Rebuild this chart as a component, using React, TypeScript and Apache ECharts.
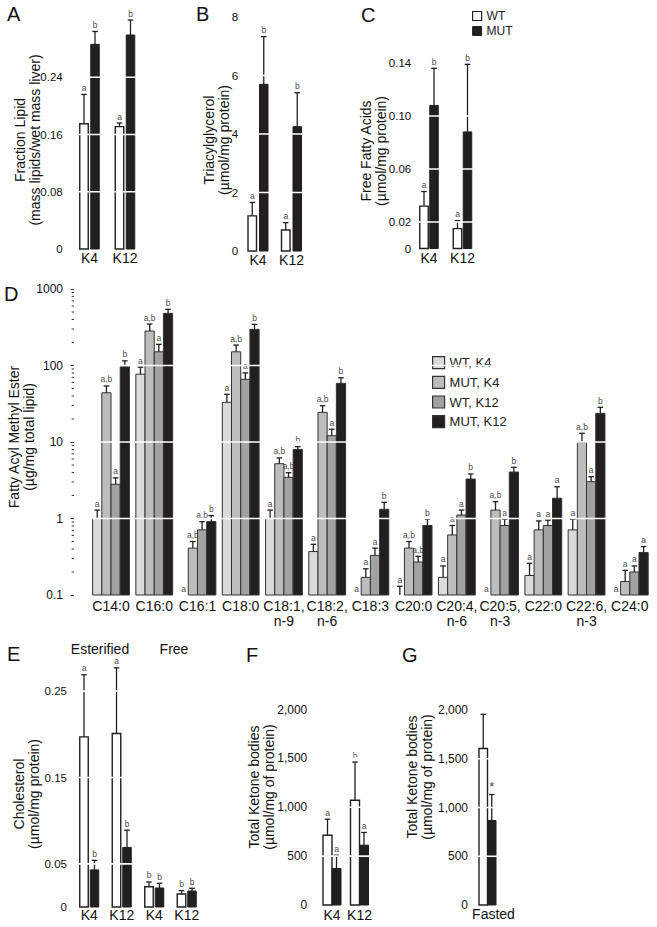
import React, { useEffect, useRef } from 'react';
import * as echarts from 'echarts';

const FONT = '"Liberation Sans", Arial, Helvetica, sans-serif';
const INK = '#231f20';
const WT_FILL = '#ffffff';
const MUT_FILL = '#231f20';

// ---------- Panel A: fraction lipid ----------
const lipidCategories = ['K4', 'K12'];
const lipidWT = [0.175, 0.171];
const lipidWTErr = [0.216, 0.176];
const lipidMUT = [0.286, 0.299];
const lipidMUTErr = [0.304, 0.32];
const lipidWTLetters = ['a', 'a'];
const lipidMUTLetters = ['b', 'b'];
const lipidTickLabels = [0, 0.08, 0.16, 0.24];
const lipidGridLines = [0.08, 0.16, 0.24];

// ---------- Panel B: triacylglycerol ----------
const tagCategories = ['K4', 'K12'];
const tagWT = [1.2, 0.72];
const tagWTErr = [1.66, 0.97];
const tagMUT = [5.7, 4.25];
const tagMUTErr = [7.33, 5.41];
const tagWTLetters = ['a', 'a'];
const tagMUTLetters = ['b', 'b'];
const tagGridLines = [2, 4, 6];

// ---------- Panel C: free fatty acids ----------
const ffaCategories = ['K4', 'K12'];
const ffaWT = [0.032, 0.015];
const ffaWTErr = [0.043, 0.021];
const ffaMUT = [0.108, 0.088];
const ffaMUTErr = [0.136, 0.139];
const ffaWTLetters = ['a', 'a'];
const ffaMUTLetters = ['b', 'b'];
const ffaTickLabels = [0, 0.02, 0.06, 0.1, 0.14];
const ffaGridLines = [0.02, 0.06, 0.1];

// ---------- Panel D: fatty acyl methyl esters ----------
const fameCategories = [
  'C14:0', 'C16:0', 'C16:1', 'C18:0', 'C18:1,\nn-9', 'C18:2,\nn-6', 'C18:3',
  'C20:0', 'C20:4,\nn-6', 'C20:5,\nn-3', 'C22:0', 'C22:6,\nn-3', 'C24:0',
];
const fameWTK4 = [1.0, 77, null, 33, 1.0, 0.37, null, null, 0.17, null, 0.18, 0.71, null];
const fameWTK4Err = [1.29, 95, null, 42, 1.29, 0.46, null, 0.13, 0.24, null, 0.26, 0.98, null];
const fameMUTK4 = [44, 282, 0.41, 151, 5.2, 24.4, 0.17, 0.41, 0.61, 1.29, 0.71, 9.9, 0.15];
const fameMUTK4Err = [54, 348, 0.5, 185, 6.2, 29.8, 0.22, 0.5, 0.81, 1.66, 0.93, 13, 0.21];
const fameWTK12 = [2.8, 151, 0.71, 66, 3.45, 12.1, 0.33, 0.27, 1.11, 0.81, 0.81, 3.03, 0.2];
const fameWTK12Err = [3.4, 189, 0.91, 80, 3.97, 14.7, 0.41, 0.32, 1.29, 0.98, 0.95, 3.52, 0.24];
const fameMUTK12 = [96, 481, 0.91, 297, 8.0, 58.5, 1.32, 0.81, 3.28, 4.05, 1.84, 23.7, 0.36];
const fameMUTK12Err = [115, 543, 1.09, 345, 8.7, 69, 1.63, 0.98, 3.82, 4.67, 2.6, 28.4, 0.43];
const fameWTK4Letters = ['a', 'a', 'a', 'a', 'a', 'a', 'a', 'a', 'a', 'a', 'a', 'a', 'a'];
const fameMUTK4Letters = ['a,b', 'a,b', 'a,b', 'a,b', 'a,b', 'a,b', 'a', 'a,b', 'a', 'a,b', 'a', 'a,b', 'a'];
const fameWTK12Letters = ['a', 'a', 'a,b', 'a', 'a,b', 'a', 'a', 'a,b', 'a', 'a', 'a', 'a', 'a'];
const fameMUTK12Letters = ['b', 'b', 'b', 'b', 'b', 'b', 'b', 'b', 'b', 'b', 'a', 'b', 'a'];
const fameGridLines = [1, 10, 100];
const fameDecades = [0.1, 1, 10, 100];
const fameMinorMultipliers = [2, 3, 4, 5, 6, 7, 8, 9];

// ---------- Panel E: cholesterol ----------
const cholCategories = ['Esterified K4', 'Esterified K12', 'Free K4', 'Free K12'];
const cholWT = [0.197, 0.201, 0.0235, 0.015];
const cholWTErr = [0.269, 0.277, 0.029, 0.019];
const cholMUT = [0.043, 0.069, 0.022, 0.0185];
const cholMUTErr = [0.054, 0.089, 0.0275, 0.0217];
const cholWTLetters = ['a', 'a', 'b', 'b'];
const cholMUTLetters = ['b', 'b', 'b', 'b'];
const cholTickLabels = [0, 0.05, 0.15, 0.25];
const cholGridLines = [0.05, 0.15, 0.25];

// ---------- Panel F: ketone bodies by diet ----------
const ketCategories = ['K4', 'K12'];
const ketWT = [714, 1071];
const ketWTErr = [878, 1462];
const ketMUT = [374, 612];
const ketMUTErr = [510, 742];
const ketWTLetters = ['a', 'b'];
const ketMUTLetters = ['a', 'a'];
const ketGridLines = [500, 1000, 1500];

// ---------- Panel G: ketone bodies fasted ----------
const fastCategories = ['Fasted'];
const fastWT = [1605];
const fastWTErr = [1956];
const fastMUT = [867];
const fastMUTErr = [1133];
const fastWTLetters = [''];
const fastMUTLetters = ['*'];
const fastGridLines = [500, 1000, 1500];

type BarSpec = {
  name: string;
  axis: number;
  values: (number | null)[];
  errs: (number | null)[];
  letters: string[];
  idx: number;
  n: number;
  barW: number;
  gap: number;
  fill: string;
  stroke: string;
  lineW: number;
  yMin: number;
  letterSize?: number;
};

function barSeries(s: BarSpec) {
  return {
    type: 'custom',
    name: s.name,
    xAxisIndex: s.axis,
    yAxisIndex: s.axis,
    z: 3,
    clip: false,
    itemStyle: { color: s.fill, borderColor: s.stroke, borderWidth: s.lineW },
    data: s.values.map((v, i) => [i, v == null ? s.yMin : v]),
    renderItem: (params: any, api: any) => {
      const i = params.dataIndex;
      const cs = params.coordSys;
      const base = cs.y + cs.height;
      const v = s.values[i];
      const e = s.errs[i];
      const cx0 = api.coord([i, s.yMin === 0 ? 1 : s.yMin])[0];
      const total = s.n * s.barW + (s.n - 1) * s.gap;
      const left = cx0 - total / 2 + s.idx * (s.barW + s.gap);
      const cx = left + s.barW / 2;
      const children: any[] = [];
      let top = base;
      if (v != null && v > s.yMin) {
        top = api.coord([i, v])[1];
        children.push({
          type: 'rect',
          shape: { x: left, y: top, width: s.barW, height: base - top },
          style: { fill: s.fill, stroke: s.stroke, lineWidth: s.lineW },
        });
      }
      let labelY = top;
      if (e != null) {
        const ey = api.coord([i, e])[1];
        children.push({
          type: 'line',
          shape: { x1: cx, y1: top, x2: cx, y2: ey },
          style: { stroke: INK, lineWidth: 1.3 },
        });
        children.push({
          type: 'line',
          shape: { x1: cx - 2.8, y1: ey, x2: cx + 2.8, y2: ey },
          style: { stroke: INK, lineWidth: 1.3 },
        });
        labelY = ey;
      }
      if (s.letters[i]) {
        children.push({
          type: 'text',
          x: cx,
          y: labelY - 2,
          style: {
            text: s.letters[i],
            fill: '#4a4a4a',
            font: `${s.letterSize || 8.5}px ${FONT}`,
            align: 'center',
            verticalAlign: 'bottom',
          },
        });
      }
      return { type: 'group', children };
    },
  };
}

function gridLineSeries(axis: number, values: number[]) {
  return {
    type: 'custom',
    xAxisIndex: axis,
    yAxisIndex: axis,
    z: 10,
    silent: true,
    clip: false,
    data: values.map((v) => [0, v]),
    renderItem: (params: any, api: any) => {
      const cs = params.coordSys;
      const y = api.coord([0, api.value(1)])[1];
      return {
        type: 'line',
        shape: { x1: cs.x, y1: y, x2: cs.x + cs.width, y2: y },
        style: { stroke: '#ffffff', lineWidth: 1.6 },
      };
    },
  };
}

const catAxis = (gridIndex: number, data: string[], margin: number, extra: any = {}) => ({
  type: 'category',
  gridIndex,
  data,
  axisLine: { show: false },
  axisTick: { show: false },
  splitLine: { show: false },
  axisLabel: { interval: 0, margin, fontSize: 14, color: '#111', fontFamily: FONT, ...extra },
});

const valAxis = (
  gridIndex: number,
  min: number,
  max: number,
  interval: number,
  margin: number,
  formatter: (v: number) => string,
  fontSize = 11.5,
) => ({
  type: 'value',
  gridIndex,
  min,
  max,
  interval,
  axisLine: { show: false },
  axisTick: { show: false },
  splitLine: { show: false },
  axisLabel: { margin, fontSize, color: '#111', fontFamily: FONT, formatter },
});

const inList = (list: number[], v: number) => list.some((t) => Math.abs(t - v) < 1e-9);
const dec2 = (v: number) => (v === 0 ? '0' : v.toFixed(2));
const thousands = (v: number) => v.toLocaleString('en-US');

function pairSeries(
  axis: number,
  wt: number[], wtErr: number[], wtL: string[],
  mut: number[], mutErr: number[], mutL: string[],
  barW: number, gap: number, mutLetterSize?: number,
) {
  return [
    barSeries({ name: 'WT', axis, values: wt, errs: wtErr, letters: wtL, idx: 0, n: 2, barW, gap, fill: WT_FILL, stroke: INK, lineW: 1.4, yMin: 0 }),
    barSeries({ name: 'MUT', axis, values: mut, errs: mutErr, letters: mutL, idx: 1, n: 2, barW, gap, fill: MUT_FILL, stroke: INK, lineW: 1, yMin: 0, letterSize: mutLetterSize }),
  ];
}

const fameColors = ['#dadada', '#bdbdbd', '#a2a2a2', '#231f20'];
const fameNames = ['WT, K4', 'MUT, K4', 'WT, K12', 'MUT, K12'];
const fameValues = [fameWTK4, fameMUTK4, fameWTK12, fameMUTK12];
const fameErrs = [fameWTK4Err, fameMUTK4Err, fameWTK12Err, fameMUTK12Err];
const fameLetters = [fameWTK4Letters, fameMUTK4Letters, fameWTK12Letters, fameMUTK12Letters];

function buildOption() {
  const fameMinorTicks = fameDecades.flatMap((d) => fameMinorMultipliers.map((m) => +(d * m).toPrecision(3)));
  const titleFont = `14px ${FONT}`;
  const yTitles = [
    { x: 27, y: 140, text: 'Fraction Lipid\n(mass lipids/wet mass liver)' },
    { x: 216, y: 140, text: 'Triacylglycerol\n(µmol/mg protein)' },
    { x: 373, y: 151, text: 'Free Fatty Acids\n(µmol/mg protein)' },
    { x: 21, y: 437, text: 'Fatty Acyl Methyl Ester\n(µg/mg total lipid)' },
    { x: 26, y: 794, text: 'Cholesterol\n(µmol/mg protein)' },
    { x: 261, y: 787, text: 'Total Ketone bodies\n(µmol/mg of protein)' },
    { x: 419, y: 777, text: 'Total Ketone bodies\n(µmol/mg of protein)' },
  ];
  const panelLetters = [
    { t: 'A', x: 7, y: 4 },
    { t: 'B', x: 196, y: 4 },
    { t: 'C', x: 361, y: 5 },
    { t: 'D', x: 4, y: 284 },
    { t: 'E', x: 7, y: 644 },
    { t: 'F', x: 246, y: 645 },
    { t: 'G', x: 402, y: 645 },
  ];

  return {
    animation: false,
    textStyle: { fontFamily: FONT },
    grid: [
      { left: 71.75, top: 20, width: 71, height: 229 },
      { left: 241.25, top: 17, width: 67, height: 234 },
      { left: 412.25, top: 63, width: 67, height: 185.5 },
      { left: 89.4, top: 289, width: 562, height: 306 },
      { left: 73, top: 648, width: 130, height: 259 },
      { left: 318.25, top: 709.5, width: 55, height: 195.5 },
      { left: 470, top: 710, width: 35, height: 195 },
    ],
    xAxis: [
      catAxis(0, lipidCategories, 2),
      catAxis(1, tagCategories, 2),
      catAxis(2, ffaCategories, 2.5),
      catAxis(3, fameCategories, 3.5, { lineHeight: 15 }),
      catAxis(4, cholCategories, 1, { formatter: (v: string) => v.split(' ')[1] }),
      catAxis(5, ketCategories, 3),
      catAxis(6, fastCategories, 2, { padding: [0, 0, 0, 12] }),
    ],
    yAxis: [
      valAxis(0, 0, 0.32, 0.08, 9, (v) => (inList(lipidTickLabels, v) ? dec2(v) : '')),
      valAxis(1, 0, 8, 2, 3, (v) => String(v)),
      valAxis(2, 0, 0.14, 0.02, 1, (v) => (inList(ffaTickLabels, v) ? dec2(v) : '')),
      {
        type: 'log',
        gridIndex: 3,
        logBase: 10,
        min: 0.1,
        max: 1000,
        offset: 15.4,
        axisLine: { show: false },
        axisTick: { show: true, length: 3.5, lineStyle: { color: '#333', width: 1 } },
        splitLine: { show: false },
        axisLabel: { margin: 11, fontSize: 12, color: '#111', fontFamily: FONT, formatter: (v: number) => String(v) },
      },
      valAxis(4, 0, 0.3, 0.05, 6, (v) => (inList(cholTickLabels, v) ? dec2(v) : '')),
      valAxis(5, 0, 2000, 500, 11, thousands, 12),
      valAxis(6, 0, 2000, 500, 2, thousands, 12),
    ],
    legend: [
      {
        left: 467,
        top: 5,
        orient: 'vertical',
        icon: 'rect',
        itemWidth: 9,
        itemHeight: 9,
        itemGap: 3,
        selectedMode: false,
        textStyle: { fontSize: 12, color: '#222', fontFamily: FONT },
        data: [
          { name: 'WT', itemStyle: { color: WT_FILL, borderColor: INK, borderWidth: 1.2 } },
          { name: 'MUT', itemStyle: { color: MUT_FILL, borderColor: INK, borderWidth: 1 } },
        ],
      },
      {
        left: 427,
        top: 351,
        orient: 'vertical',
        icon: 'rect',
        itemWidth: 12,
        itemHeight: 12,
        itemGap: 6.5,
        selectedMode: false,
        textStyle: { fontSize: 13, color: '#222', fontFamily: FONT },
        data: fameNames.map((n, k) => ({
          name: n,
          itemStyle: { color: fameColors[k], borderColor: '#333', borderWidth: 1.2 },
        })),
      },
    ],
    graphic: [
      ...panelLetters.map((p) => ({
        type: 'text',
        x: p.x,
        y: p.y,
        style: { text: p.t, font: `20px ${FONT}`, fill: '#111' },
      })),
      ...yTitles.map((t) => ({
        type: 'text',
        x: t.x,
        y: t.y,
        rotation: Math.PI / 2,
        style: {
          text: t.text,
          font: titleFont,
          fill: '#111',
          align: 'center',
          verticalAlign: 'middle',
          textAlign: 'center',
          textVerticalAlign: 'middle',
          lineHeight: 15,
        },
      })),
      {
        type: 'text',
        x: 100,
        y: 649,
        style: { text: 'Esterified', font: titleFont, fill: '#111', align: 'center', verticalAlign: 'middle', textAlign: 'center', textVerticalAlign: 'middle' },
      },
      {
        type: 'text',
        x: 174,
        y: 649,
        style: { text: 'Free', font: titleFont, fill: '#111', align: 'center', verticalAlign: 'middle', textAlign: 'center', textVerticalAlign: 'middle' },
      },
    ],
    series: [
      ...pairSeries(0, lipidWT, lipidWTErr, lipidWTLetters, lipidMUT, lipidMUTErr, lipidMUTLetters, 8.5, 2.5),
      gridLineSeries(0, lipidGridLines),
      ...pairSeries(1, tagWT, tagWTErr, tagWTLetters, tagMUT, tagMUTErr, tagMUTLetters, 8.5, 3),
      gridLineSeries(1, tagGridLines),
      ...pairSeries(2, ffaWT, ffaWTErr, ffaWTLetters, ffaMUT, ffaMUTErr, ffaMUTLetters, 8.5, 1.5),
      gridLineSeries(2, ffaGridLines),
      ...fameNames.map((n, k) =>
        barSeries({
          name: n,
          axis: 3,
          values: fameValues[k],
          errs: fameErrs[k],
          letters: fameLetters[k],
          idx: k,
          n: 4,
          barW: 9.2,
          gap: 0,
          fill: fameColors[k],
          stroke: '#333',
          lineW: 1,
          yMin: 0.1,
        }),
      ),
      gridLineSeries(3, fameGridLines),
      {
        type: 'custom',
        xAxisIndex: 3,
        yAxisIndex: 3,
        z: 5,
        silent: true,
        clip: false,
        data: fameMinorTicks.map((v) => [0, v]),
        renderItem: (params: any, api: any) => {
          const cs = params.coordSys;
          const y = api.coord([0, api.value(1)])[1];
          const ax = cs.x - 15.4;
          return {
            type: 'line',
            shape: { x1: ax - 2.3, y1: y, x2: ax, y2: y },
            style: { stroke: '#333', lineWidth: 1 },
          };
        },
      },
      ...pairSeries(4, cholWT, cholWTErr, cholWTLetters, cholMUT, cholMUTErr, cholMUTLetters, 8.5, 2),
      gridLineSeries(4, cholGridLines),
      ...pairSeries(5, ketWT, ketWTErr, ketWTLetters, ketMUT, ketMUTErr, ketMUTLetters, 9, 0),
      gridLineSeries(5, ketGridLines),
      ...pairSeries(6, fastWT, fastWTErr, fastWTLetters, fastMUT, fastMUTErr, fastMUTLetters, 8.5, 0, 13),
      gridLineSeries(6, fastGridLines),
    ],
  };
}

export default function App() {
  const ref = useRef<HTMLDivElement>(null);
  useEffect(() => {
    if (!ref.current) return;
    const chart = echarts.init(ref.current, undefined, { renderer: 'svg' });
    chart.setOption(buildOption() as any);
    return () => chart.dispose();
  }, []);
  return (
    <div
      ref={ref}
      style={{ position: 'fixed', left: 0, top: 0, width: 657, height: 927, background: '#ffffff' }}
    />
  );
}
